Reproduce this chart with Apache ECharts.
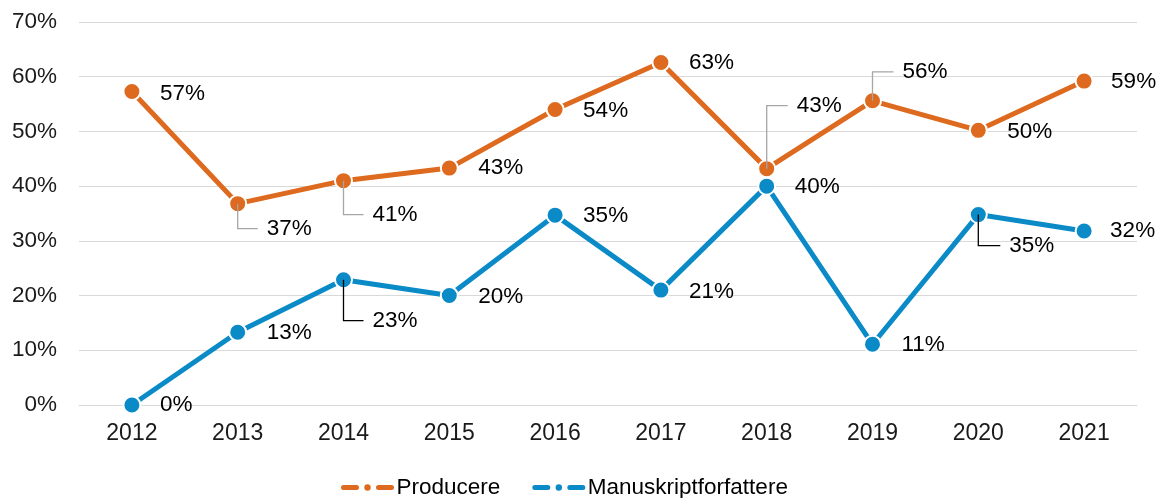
<!DOCTYPE html>
<html>
<head>
<meta charset="utf-8">
<title>Producere og manuskriptforfattere</title>
<script src="https://cdn.jsdelivr.net/npm/echarts@6/dist/echarts.min.js"></script>
<style>
    html, body { margin: 0; padding: 0; background: #fff; }
    #chart { width: 1165px; height: 498px; }
</style>
</head>
<body>
<div id="chart"></div>
<script>
// data
const years = ['2012', '2013', '2014', '2015', '2016', '2017', '2018', '2019', '2020', '2021'];
const producere = [57.3, 36.8, 41.0, 43.3, 54.0, 62.6, 43.2, 55.6, 50.2, 59.2];
const manuskript = [0, 13.3, 22.9, 20.0, 34.7, 21.0, 40.0, 11.1, 34.8, 31.8];
const seriesNames = ['Producere', 'Manuskriptforfattere'];

// label placement (offset of label's left/middle from the point), per series
const labelOffsets = [
    [[28, 2], [29, 25], [29, 34], [29, 0], [28, 1], [28, 0], [30, -63], [30, -29], [29, 1], [27, 1]],
    [[28, 0], [29, 1], [29, 41], [29, 1], [28, 1], [28, 2], [28, 1], [29, 1], [31, 31], [26, 0]]
];
// points whose label has a leader line
const leaders = [[1, 2, 6, 7], [2, 8]];

const colors = ['#DD6A1F', '#0A8AC6'];
const leaderColors = ['#A6A6A6', '#000000'];
const font = "'Liberation Sans', Arial, sans-serif";

const chart = echarts.init(document.getElementById('chart'));

function lineSeries(idx, values) {
    return {
        name: seriesNames[idx],
        type: 'line',
        data: values,
        z: 2,
        symbol: 'circle',
        symbolSize: 17,
        lineStyle: { width: 5, color: colors[idx] },
        itemStyle: { color: colors[idx], borderColor: '#fff', borderWidth: 2 },
        label: {
            show: true,
            formatter: (p) => Math.round(p.value) + '%',
            color: '#000',
            fontSize: 22.5,
            fontFamily: font
        },
        labelLayout: (p) => {
            const off = labelOffsets[idx][p.dataIndex];
            const cx = p.rect.x + p.rect.width / 2;
            const cy = p.rect.y + p.rect.height / 2;
            return { x: cx + off[0], y: cy + off[1], align: 'left', verticalAlign: 'middle' };
        }
    };
}

// leader lines, drawn from the data points through the axes
function leaderSeries(idx, values) {
    return {
        name: seriesNames[idx] + '-leader',
        type: 'custom',
        silent: true,
        z: 5,
        data: values.map((v, i) => [i, v]),
        renderItem: (params, api) => {
            const i = params.dataIndex;
            if (leaders[idx].indexOf(i) < 0) return null;
            const p = api.coord([api.value(0), api.value(1)]);
            const off = labelOffsets[idx][i];
            return {
                type: 'polyline',
                shape: { points: [p, [p[0], p[1] + off[1]], [p[0] + off[0] - 9, p[1] + off[1]]] },
                style: { stroke: leaderColors[idx], lineWidth: 1.3, fill: null }
            };
        }
    };
}

const options = {
    animation: false,
    grid: { left: 79, right: 28, top: 22, bottom: 93 },
    legend: {
        data: seriesNames,
        left: 336,
        top: 471,
        itemGap: 32,
        itemWidth: 48,
        itemHeight: 8,
        lineStyle: { width: 5, type: [13, 22], cap: 'round' },
        itemStyle: { borderWidth: 0 },
        textStyle: { fontSize: 22.5, color: '#000', fontFamily: font }
    },
    xAxis: {
        type: 'category',
        data: years,
        axisTick: { show: false },
        axisLine: { lineStyle: { color: '#D9D9D9', width: 1 } },
        axisLabel: { fontSize: 23, color: '#1a1a1a', fontFamily: font, margin: 17 }
    },
    yAxis: {
        type: 'value',
        min: 0,
        max: 70,
        interval: 10,
        axisLabel: { fontSize: 22.5, color: '#1a1a1a', fontFamily: font, margin: 22, formatter: '{value}%' },
        splitLine: { lineStyle: { color: '#D9D9D9', width: 1 } }
    },
    series: [
        lineSeries(0, producere),
        lineSeries(1, manuskript),
        leaderSeries(0, producere),
        leaderSeries(1, manuskript)
    ]
};

chart.setOption(options);
</script>
</body>
</html>
